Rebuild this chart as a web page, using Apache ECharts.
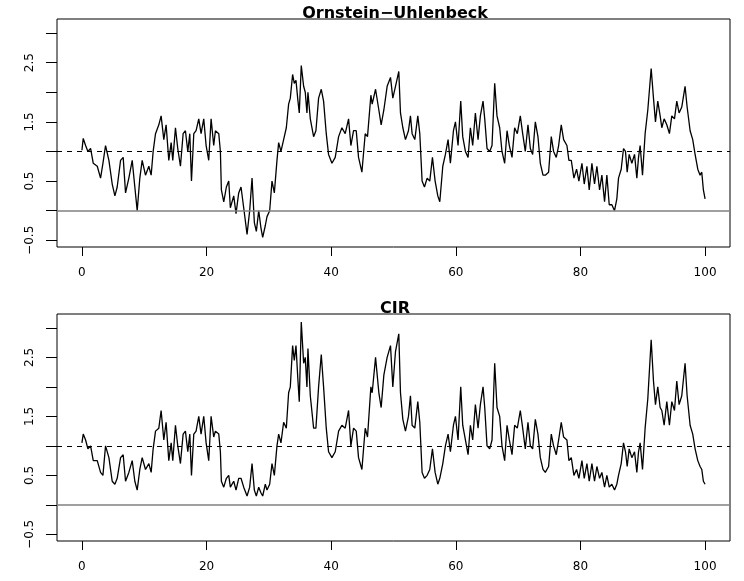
<!DOCTYPE html>
<html>
<head>
<meta charset="utf-8">
<script src="https://cdn.jsdelivr.net/npm/echarts@6/dist/echarts.min.js"></script>
<style>
  body { margin: 0; background: #fff; }
  #chart { width: 744px; height: 581px; }
</style>
</head>
<body>
<div id="chart"></div>
<script>
// time axis (same sample times for both paths)
var time = [
  0.00, 0.21, 0.59, 0.96, 1.39, 1.82, 2.46, 2.99, 3.37, 3.79,
  4.33, 4.86, 5.29, 5.66, 6.20, 6.62, 7.00, 7.53, 8.07, 8.49,
  8.87, 9.29, 9.67, 10.20, 10.74, 11.11, 11.43, 11.81, 12.34, 12.71,
  13.14, 13.51, 13.94, 14.32, 14.58, 15.01, 15.38, 15.81, 16.24, 16.61,
  16.99, 17.31, 17.58, 17.95, 18.32, 18.75, 19.12, 19.55, 19.93, 20.35,
  20.73, 21.15, 21.42, 21.96, 22.22, 22.38, 22.76, 23.18, 23.56, 23.82,
  24.36, 24.73, 25.16, 25.53, 25.96, 26.50, 26.92, 27.30, 27.67, 27.99,
  28.37, 28.74, 29.01, 29.43, 29.70, 30.13, 30.50, 30.88, 31.30, 31.57,
  31.94, 32.37, 32.80, 33.17, 33.44, 33.81, 34.08, 34.35, 34.67, 34.88,
  35.20, 35.58, 35.84, 36.11, 36.27, 36.65, 37.18, 37.55, 37.98, 38.41,
  38.78, 39.21, 39.58, 40.12, 40.65, 41.19, 41.72, 42.25, 42.79, 43.16,
  43.59, 44.02, 44.39, 44.93, 45.46, 45.83, 46.37,
  46.58, 47.12, 47.65, 48.02, 48.45, 48.98, 49.52, 49.89, 50.32, 50.85,
  51.12, 51.50, 51.92, 52.40, 52.72, 52.99, 53.42, 53.90, 54.22, 54.59,
  54.97, 55.40, 55.82, 56.25, 56.68, 57.11, 57.43, 57.91, 58.33, 58.76,
  59.13, 59.62, 59.94, 60.36, 60.79, 61.11, 61.54, 61.97, 62.34, 62.71,
  63.14, 63.57, 63.94, 64.37, 64.64, 65.01, 65.44, 65.81, 66.24, 66.61,
  67.04, 67.41, 67.84, 68.22, 68.59, 69.02, 69.44, 69.87, 70.35, 70.73,
  71.15, 71.58, 71.96, 72.33, 72.76, 73.18, 73.56, 73.99, 74.36, 74.89,
  75.32, 75.69, 76.12, 76.50, 76.92, 77.30, 77.83, 78.15, 78.53, 78.95,
  79.38, 79.75, 80.24, 80.61, 81.04, 81.41, 81.84, 82.26, 82.64, 83.07,
  83.44, 83.87, 84.24, 84.62, 85.04, 85.47, 85.84, 86.11, 86.54, 86.91,
  87.23, 87.50, 87.82, 88.25, 88.68, 89.05, 89.32, 89.58, 89.96, 90.38,
  90.81, 91.35, 91.72, 92.04, 92.41, 92.79, 93.06, 93.43, 93.86, 94.28,
  94.66, 95.09, 95.46, 95.83, 96.26, 96.79, 97.12, 97.60, 98.02, 98.40,
  98.83, 99.20, 99.47, 99.73, 100.0
];

// Ornstein-Uhlenbeck path
var ou = [
  1.02, 1.22, 1.1, 1.0, 1.05, 0.8, 0.75, 0.55, 0.8, 1.1,
  0.85, 0.45, 0.25, 0.4, 0.85, 0.9, 0.3, 0.55, 0.85, 0.4,
  0.0, 0.55, 0.85, 0.6, 0.75, 0.6, 1.0, 1.3, 1.45, 1.6,
  1.2, 1.45, 0.85, 1.15, 0.85, 1.4, 1.05, 0.75, 1.3, 1.35,
  1.0, 1.3, 0.5, 1.3, 1.35, 1.55, 1.3, 1.55, 1.1, 0.85,
  1.55, 1.1, 1.35, 1.3, 1.0, 0.35, 0.15, 0.4, 0.5, 0.05,
  0.25, -0.05, 0.3, 0.4, 0.05, -0.4, 0.0, 0.55, -0.2, -0.35,
  0.0, -0.3, -0.45, -0.25, -0.1, 0.0, 0.5, 0.3, 0.85, 1.15,
  1.0, 1.2, 1.4, 1.8, 1.9, 2.3, 2.15, 2.2, 1.85, 1.65,
  2.45, 2.1, 2.0, 1.65, 2.0, 1.55, 1.25, 1.35, 1.9, 2.05,
  1.85, 1.3, 0.95, 0.8, 0.9, 1.25, 1.4, 1.3, 1.55, 1.1,
  1.35, 1.35, 0.9, 0.65, 1.3, 1.25, 1.95,
  1.8, 2.05, 1.7, 1.45, 1.7, 2.1, 2.25, 1.9, 2.1, 2.35,
  1.65, 1.4, 1.2, 1.35, 1.6, 1.3, 1.2, 1.6, 1.3, 0.5,
  0.4, 0.55, 0.5, 0.9, 0.5, 0.25, 0.15, 0.75, 0.95, 1.2,
  0.8, 1.35, 1.5, 1.1, 1.85, 1.25, 1.0, 0.9, 1.4, 1.1,
  1.65, 1.2, 1.6, 1.85, 1.55, 1.05, 1.0, 1.1, 2.15, 1.6,
  1.4, 1.0, 0.8, 1.35, 1.1, 0.9, 1.4, 1.3, 1.6, 1.3,
  1.0, 1.45, 1.05, 0.95, 1.5, 1.25, 0.8, 0.6, 0.6, 0.65,
  1.25, 1.0, 0.9, 1.1, 1.45, 1.2, 1.1, 0.85, 0.85, 0.55,
  0.7, 0.5, 0.8, 0.45, 0.75, 0.35, 0.8, 0.45, 0.75, 0.35,
  0.6, 0.15, 0.6, 0.1, 0.1, 0.0, 0.2, 0.55, 0.7, 1.05,
  1.0, 0.65, 0.95, 0.8, 0.95, 0.55, 0.9, 1.1, 0.6, 1.3,
  1.7, 2.4, 1.9, 1.5, 1.85, 1.6, 1.4, 1.55, 1.45, 1.3,
  1.6, 1.55, 1.85, 1.65, 1.75, 2.1, 1.75, 1.35, 1.2, 0.95,
  0.7, 0.6, 0.65, 0.35, 0.2
];

// CIR path
var cir = [
  1.05, 1.2, 1.1, 0.95, 1.0, 0.75, 0.75, 0.55, 0.5, 1.0,
  0.8, 0.4, 0.35, 0.45, 0.8, 0.85, 0.4, 0.55, 0.75, 0.4,
  0.25, 0.6, 0.8, 0.6, 0.7, 0.55, 0.95, 1.25, 1.3, 1.6,
  1.1, 1.4, 0.75, 1.05, 0.75, 1.35, 1.0, 0.7, 1.2, 1.25,
  0.9, 1.2, 0.5, 1.2, 1.25, 1.5, 1.2, 1.5, 1.05, 0.75,
  1.5, 1.15, 1.25, 1.2, 0.9, 0.4, 0.3, 0.45, 0.5, 0.3,
  0.4, 0.25, 0.45, 0.45, 0.3, 0.15, 0.3, 0.7, 0.25, 0.15,
  0.3, 0.2, 0.15, 0.35, 0.25, 0.35, 0.7, 0.5, 1.0, 1.2,
  1.05, 1.4, 1.3, 1.9, 2.0, 2.7, 2.45, 2.7, 2.1, 1.75,
  3.1, 2.4, 2.5, 2.0, 2.65, 1.85, 1.3, 1.3, 2.0, 2.55,
  2.0, 1.3, 0.9, 0.8, 0.9, 1.25, 1.35, 1.3, 1.6, 1.0,
  1.3, 1.25, 0.8, 0.6, 1.3, 1.15, 2.0,
  1.9, 2.5, 1.9, 1.65, 2.2, 2.5, 2.7, 2.0, 2.6, 2.9,
  1.9, 1.45, 1.25, 1.5, 1.85, 1.35, 1.3, 1.75, 1.4, 0.55,
  0.45, 0.5, 0.6, 0.95, 0.55, 0.35, 0.45, 0.7, 1.0, 1.2,
  0.9, 1.35, 1.5, 1.1, 2.0, 1.35, 1.1, 0.85, 1.35, 1.1,
  1.7, 1.3, 1.7, 2.0, 1.65, 1.0, 0.95, 1.1, 2.4, 1.65,
  1.5, 1.0, 0.75, 1.35, 1.1, 0.85, 1.35, 1.3, 1.6, 1.3,
  0.95, 1.4, 1.0, 0.95, 1.45, 1.2, 0.8, 0.6, 0.55, 0.65,
  1.2, 1.0, 0.85, 1.1, 1.4, 1.15, 1.1, 0.75, 0.8, 0.5,
  0.6, 0.45, 0.75, 0.45, 0.7, 0.4, 0.7, 0.4, 0.65, 0.45,
  0.55, 0.3, 0.5, 0.3, 0.35, 0.25, 0.35, 0.5, 0.7, 1.05,
  0.9, 0.65, 0.95, 0.8, 0.9, 0.55, 0.9, 1.05, 0.6, 1.3,
  1.8, 2.8, 2.1, 1.7, 2.0, 1.65, 1.6, 1.35, 1.75, 1.35,
  1.75, 1.6, 2.1, 1.7, 1.85, 2.4, 1.85, 1.35, 1.2, 0.95,
  0.75, 0.65, 0.6, 0.4, 0.35
];

var titles = ["Ornstein\u2212Uhlenbeck", "CIR"];
var xTicks = [0, 20, 40, 60, 80, 100];
var yTicks = [-0.5, 0, 0.5, 1, 1.5, 2, 2.5, 3];
var yLabels = [-0.5, 0.5, 1.5, 2.5];
var meanLevel = 1;
var zeroLevel = 0;

var myChart = echarts.init(document.getElementById("chart"));

function pairs(ys) {
  return time.map(function (t, i) { return [t, ys[i]]; });
}

var font = "DejaVu Sans";

function xAxisFor(gridIndex) {
  return {
    type: "value",
    gridIndex: gridIndex,
    position: "bottom",
    min: -4,
    max: 104,
    axisLine: { show: false, onZero: false },
    splitLine: { show: false },
    axisTick: { customValues: xTicks, length: 9, lineStyle: { color: "#000" } },
    axisLabel: {
      customValues: xTicks,
      margin: 20,
      color: "#000",
      fontFamily: font,
      fontSize: 12
    }
  };
}

function yAxisFor(gridIndex) {
  return {
    type: "value",
    gridIndex: gridIndex,
    position: "left",
    min: -0.613,
    max: 3.236,
    axisLine: { show: false, onZero: false },
    splitLine: { show: false },
    axisTick: { customValues: yTicks, length: 11, lineStyle: { color: "#000" } },
    axisLabel: {
      customValues: yLabels,
      rotate: 90,
      margin: 21,
      color: "#000",
      fontFamily: font,
      fontSize: 12,
      formatter: function (v) { return String(v).replace("-", "\u2212"); }
    }
  };
}

function pathSeries(index, ys) {
  return {
    type: "line",
    xAxisIndex: index,
    yAxisIndex: index,
    data: pairs(ys),
    symbol: "none",
    lineStyle: { color: "#000", width: 1.3 },
    z: 3,
    markLine: {
      silent: true,
      symbol: "none",
      label: { show: false },
      data: [
        { yAxis: meanLevel, lineStyle: { color: "#000", width: 1, type: [5, 5] } },
        { yAxis: zeroLevel, lineStyle: { color: "#808080", width: 1.6, type: "solid" } }
      ]
    }
  };
}

var option = {
  animation: false,
  backgroundColor: "#fff",
  title: [
    {
      text: titles[0], left: 395, top: 6, textAlign: "center", padding: 0,
      textStyle: { fontFamily: font, fontWeight: "bold", fontSize: 16, color: "#000" }
    },
    {
      text: titles[1], left: 395, top: 301, textAlign: "center", padding: 0,
      textStyle: { fontFamily: font, fontWeight: "bold", fontSize: 16, color: "#000" }
    }
  ],
  // two stacked panels, each a framed box like base R
  grid: [
    { left: 57, top: 19, width: 673, height: 228, show: true, borderColor: "#000", borderWidth: 1, backgroundColor: "transparent" },
    { left: 57, top: 314, width: 673, height: 227, show: true, borderColor: "#000", borderWidth: 1, backgroundColor: "transparent" }
  ],
  xAxis: [xAxisFor(0), xAxisFor(1)],
  yAxis: [yAxisFor(0), yAxisFor(1)],
  series: [pathSeries(0, ou), pathSeries(1, cir)]
};

myChart.setOption(option);
</script>
</body>
</html>
